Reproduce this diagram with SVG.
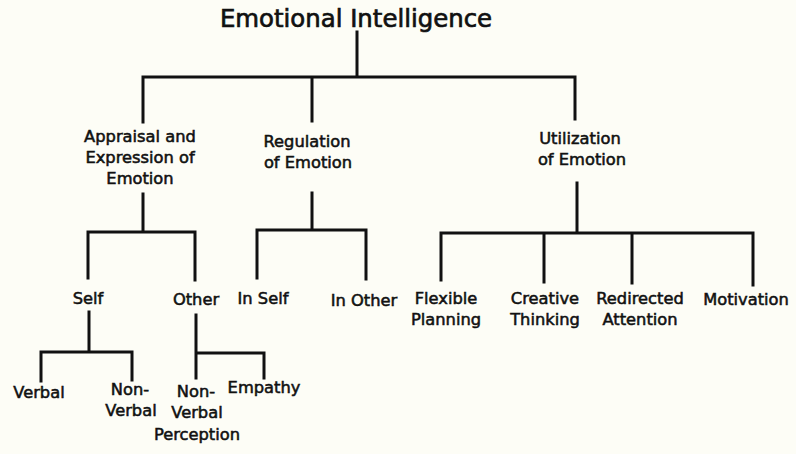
<svg xmlns="http://www.w3.org/2000/svg" width="796" height="454" viewBox="0 0 796 454">
<style>
text{font-family:"DejaVu Sans","Liberation Sans",sans-serif;fill:#111;stroke:#111;stroke-width:0.55;text-anchor:middle;font-size:16.3px}
.t{font-size:24.4px;stroke-width:0.7}
.c path{stroke:#111;stroke-width:3;fill:none;stroke-linecap:square}
</style>
<rect width="796" height="454" fill="#fdfdf6"/>
<g class="c" id="connectors">
<path d="M357 32V77M143 122V77H575V119M312 77V121"/>
<path d="M143 194V232M88 278V232H195V280"/>
<path d="M312 193V230M257 278V230H366V279"/>
<path d="M577 183V233M441 280V233H753V285M544 233V282M632 233V283"/>
<path d="M89 312V352M41 381V352H132V380"/>
<path d="M196 315V378M196 353H264V378"/>
</g>
<g id="n-ei"><text class="t" x="356" y="27">Emotional Intelligence</text></g>
<g id="n-appraisal"><text x="140" y="142">Appraisal and</text><text x="140" y="163">Expression of</text><text x="140" y="184">Emotion</text></g>
<g id="n-regulation"><text x="307" y="147">Regulation</text><text x="308" y="168">of Emotion</text></g>
<g id="n-utilization"><text x="580" y="144">Utilization</text><text x="582" y="165">of Emotion</text></g>
<g id="n-self"><text x="88" y="304">Self</text></g>
<g id="n-other"><text x="196" y="305">Other</text></g>
<g id="n-inself"><text x="263" y="304">In Self</text></g>
<g id="n-inother"><text x="364" y="306">In Other</text></g>
<g id="n-flex"><text x="446" y="304">Flexible</text><text x="446" y="325">Planning</text></g>
<g id="n-creative"><text x="545" y="304">Creative</text><text x="545" y="325">Thinking</text></g>
<g id="n-redirected"><text x="640" y="304">Redirected</text><text x="640" y="325">Attention</text></g>
<g id="n-motivation"><text x="746" y="305">Motivation</text></g>
<g id="n-verbal"><text x="39" y="398">Verbal</text></g>
<g id="n-nonverbal"><text x="130" y="395">Non-</text><text x="131" y="416">Verbal</text></g>
<g id="n-nvp"><text x="196" y="397">Non-</text><text x="197" y="418">Verbal</text><text x="197" y="440">Perception</text></g>
<g id="n-empathy"><text x="264" y="393">Empathy</text></g>
</svg>
